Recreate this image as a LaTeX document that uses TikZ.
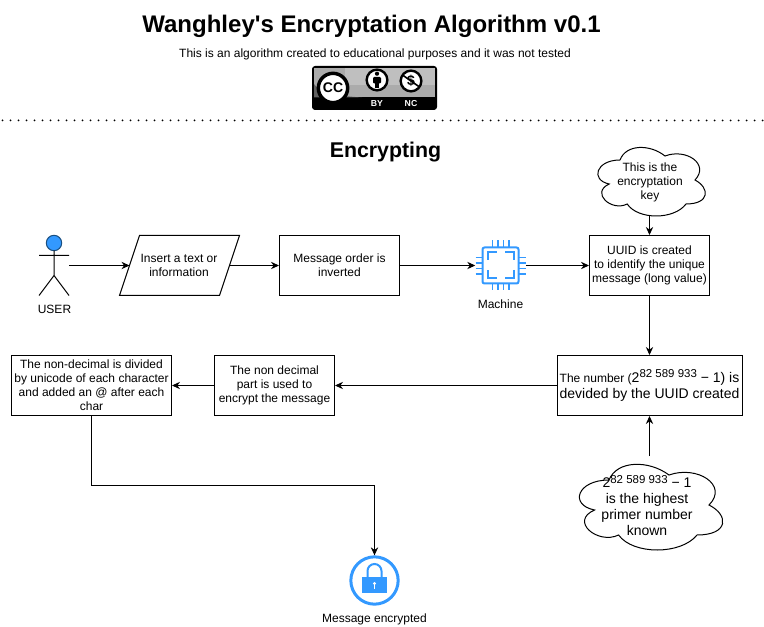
\documentclass[tikz,border=0pt]{standalone}
\usepackage{fontspec}
\setmainfont[Ligatures=TeXOff]{Liberation Sans}
\usetikzlibrary{arrows.meta}
\newcommand{\fsz}[2]{\fontsize{#1}{#2}\selectfont}
\newcommand{\cloudshape}[4]{% x y w h
  \draw[boxline,fill=white] ({#1+.25*#3},{#2+.25*#4})
   .. controls ({#1+.05*#3},{#2+.25*#4}) and ({#1},{#2+.5*#4}) .. ({#1+.16*#3},{#2+.55*#4})
   .. controls ({#1},{#2+.66*#4}) and ({#1+.18*#3},{#2+.9*#4}) .. ({#1+.31*#3},{#2+.8*#4})
   .. controls ({#1+.4*#3},{#2+#4}) and ({#1+.7*#3},{#2+#4}) .. ({#1+.8*#3},{#2+.8*#4})
   .. controls ({#1+#3},{#2+.8*#4}) and ({#1+#3},{#2+.6*#4}) .. ({#1+.875*#3},{#2+.5*#4})
   .. controls ({#1+#3},{#2+.3*#4}) and ({#1+.8*#3},{#2+.1*#4}) .. ({#1+.625*#3},{#2+.2*#4})
   .. controls ({#1+.5*#3},{#2+.05*#4}) and ({#1+.3*#3},{#2+.05*#4}) .. cycle;}
\definecolor{iconblue}{HTML}{3399FF}
\definecolor{actorline}{HTML}{1A4F80}
\tikzset{
  boxline/.style={draw=black,line width=.75pt},
  flowbox/.style={boxline,fill=white,rectangle,inner sep=0pt,align=center,font=\fsz{9}{10.5}},
  plain/.style={inner sep=0pt,align=center,font=\fsz{9}{10.5}},
  flow/.style={line width=.75pt,-{Stealth[length=6pt,width=5.5pt]}},
  icon/.style={draw=iconblue,line width=1.5pt},
}
\begin{document}
\begin{tikzpicture}[x=.75pt,y=-.75pt]
\useasboundingbox (0,0) rectangle (764,627);
\fill[white] (0,0) rectangle (764,627);
% headings
\node[plain,font=\bfseries\fsz{18}{21}] (title) at (371.5,26) {Wanghley's Encryptation Algorithm v0.1};
\node[plain] (subtitle) at (375,54) {This is an algorithm created to educational purposes and it was not tested};
% CC badge
\draw[black,fill=black,line width=.75pt,rounded corners=2pt] (312.5,66.5) rectangle (436.5,109.5);
\fill[black!33] (314,68) rectangle (435,97.5);
\fill[black!10,opacity=.35] (345,68) rectangle (435,85);
\fill[black!62] (314,97.5) -- (314,84) .. controls (320,94) and (340,96) .. (362,97.5) -- cycle;
\node[circle,draw=black,fill=white,line width=2.6pt,minimum size=22pt,inner sep=0pt,font=\bfseries\fsz{10.5}{11}] (ccmark) at (333,88) {CC};
\node[circle,draw=black,fill=white,line width=1.8pt,minimum size=15.5pt,inner sep=0pt] (bymark) at (377,80) {};
\fill[black] (377,73.7) circle (2.1);
\fill[black,rounded corners=.8pt] (373,77) rectangle (381,83.5);
\fill[black] (375,82) rectangle (379,88);
\node[circle,draw=black,fill=white,line width=1.8pt,minimum size=15.5pt,inner sep=0pt,font=\bfseries\fsz{10.5}{11}] (ncmark) at (411,81) {\$};
\draw[black,line width=1.2pt] (402.5,75) -- (419.5,87);
\node[plain,text=white,font=\bfseries\fsz{6.5}{7}] (bytext) at (377,103.5) {BY};
\node[plain,text=white,font=\bfseries\fsz{6.5}{7}] (nctext) at (411,103.5) {NC};
% dotted separator
\coordinate (sepL) at (2.5,120.5);
\coordinate (sepR) at (764,120.5);
\draw[line width=1.5pt,line cap=round,dash pattern=on 0pt off 6pt] (sepL) -- (sepR);
\node[plain,font=\bfseries\fsz{16}{18}] (enc) at (385.5,152) {Encrypting};
% actor
\coordinate (head) at (54,243);
\fill[iconblue] (head) circle (7.7);
\draw[actorline,line width=.75pt] (head) circle (7.7);
\coordinate (actorR) at (69,265.5);
\draw[line width=.75pt] (54,250.7) -- (54,275.5) (39,255.5) -- (69,255.5) (39,295.5) -- (54,275.5) -- (69,295.5);
\node[plain] (user) at (54.5,309) {USER};
% parallelogram
\draw[boxline,fill=white] (119.5,295.5) -- (139.5,235.5) -- (239.5,235.5) -- (219.5,295.5) -- cycle;
\node[plain] (insert) at (179,265.5) {Insert a text or\\information};
\coordinate (paraL) at (129.5,265.5);
\coordinate (paraR) at (229.5,265.5);
% boxes
\node[flowbox,minimum width=90pt,minimum height=45pt] (order) at (339.5,265.5) {Message order is\\inverted};
\node[flowbox,minimum width=90pt,minimum height=45pt] (uuid) at (649.5,265.5) {UUID is created\\to identify the unique\\message (long value)};
\node[flowbox,minimum width=138.75pt,minimum height=45pt] (number) at (649.5,385.5) {{\fsz{9}{10.5}The number (}{\fsz{10.5}{12}2\raisebox{3.6pt}{\fsz{8.6}{9}82 589 933} − 1) is}\\[1pt]{\fsz{10.5}{12}devided by the UUID created}};
\node[flowbox,minimum width=90pt,minimum height=45pt] (nondec) at (274.5,385.5) {The non decimal\\part is used to\\encrypt the message};
\node[flowbox,minimum width=120pt,minimum height=45pt] (divided) at (91.5,385.5) {The non-decimal is divided\\by unicode of each character\\and added an @ after each\\char};
% machine icon
\node[minimum size=37.5pt,inner sep=0pt] (machine) at (500.5,265.5) {};
\draw[icon,rounded corners=1.5pt] (482.5,247.5) rectangle (518.5,283.5);
\draw[icon] (487.5,260) -- (487.5,252) -- (497,252) (505,252) -- (513.5,252) -- (513.5,260) (513.5,270) -- (513.5,278.5) -- (505,278.5) (497,278.5) -- (487.5,278.5) -- (487.5,270);
\foreach \p in {492.5,498,503.5,509}{
  \draw[icon,line width=1.1pt] (\p,240.5) -- (\p,247) (\p,284) -- (\p,290.5);
}
\foreach \p in {257.5,263,268.5,274}{
  \draw[icon,line width=1.1pt] (475.5,\p) -- (482,\p) (519,\p) -- (525.5,\p);
}
\node[plain] (machinelabel) at (500.5,304) {Machine};
% clouds
\cloudshape{590}{140}{120}{80}
\node[plain] (keytext) at (650,182) {This is the\\encryptation\\key};
\coordinate (keyB) at (649.5,216.5);
\cloudshape{569}{455}{160}{100}
\node[plain,font=\fsz{10.5}{12}] (primetext) at (647,505.5) {2\raisebox{3.6pt}{\fsz{8.6}{9}82 589 933} − 1\\is the highest\\primer number\\known};
\coordinate (primeT) at (649.5,456);
% lock
\node[circle,draw=iconblue,line width=2.25pt,fill=white,minimum size=35.5pt,inner sep=0pt] (lock) at (374.5,580.5) {};
\draw[iconblue,line width=1.5pt] (367.5,578) -- (367.5,571) arc[start angle=180,end angle=360,radius=7] -- (381.5,578);
\fill[iconblue] (362,577) rectangle (387,593);
\fill[white] (374.5,583.5) circle (1.7);
\fill[white] (373.9,583.5) rectangle (375.1,588.5);
\node[plain] (locklabel) at (374.5,619) {Message encrypted};
% connectors
\draw[flow] (actorR) -- (paraL);
\draw[flow] (paraR) -- (order.west);
\draw[flow] (order.east) -- (machine.west);
\draw[flow] (machine.east) -- (uuid.west);
\draw[flow] (keyB) -- (uuid.north);
\draw[flow] (uuid.south) -- (number.north);
\draw[flow] (primeT) -- (number.south);
\draw[flow] (number.west) -- (nondec.east);
\draw[flow] (nondec.west) -- (divided.east);
\draw[flow] (divided.south) -- (91.5,485.5) -- (374.5,485.5) -- (lock.north);
\end{tikzpicture}
\end{document}
